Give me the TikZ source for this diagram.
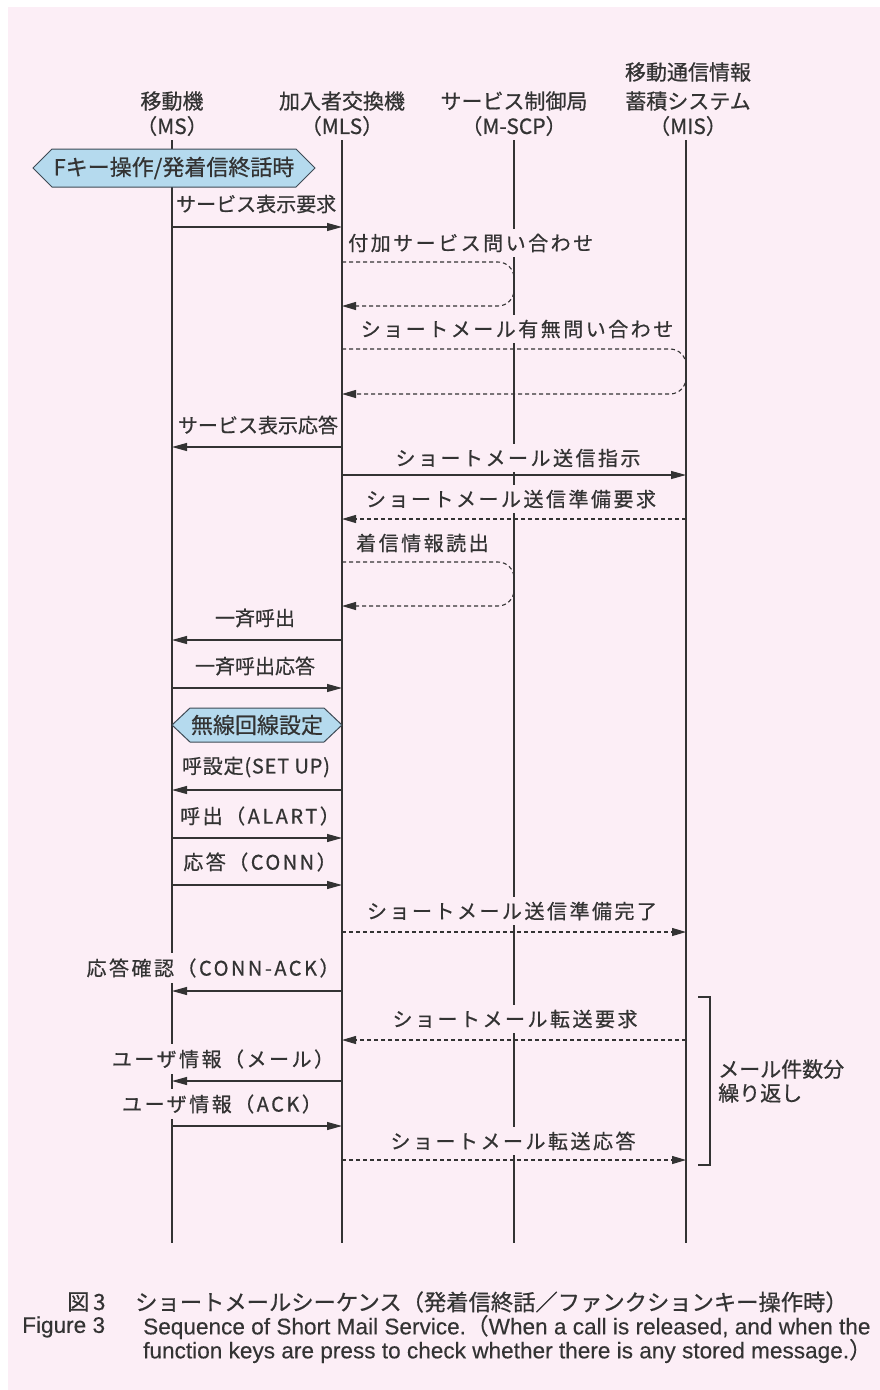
\documentclass[tikz,border=0pt]{standalone}
\usepackage{fontspec}
\setmainfont{Noto Sans CJK JP}[FakeBold=0.6]
\newfontfamily\en{Liberation Sans}[FakeBold=0.3]
\usetikzlibrary{arrows.meta}
\definecolor{bg}{HTML}{FCEEF6}
\definecolor{ln}{HTML}{333333}
\definecolor{hexfill}{HTML}{B5DAEE}
\definecolor{hexdraw}{HTML}{3E4A55}
\begin{document}
\begin{tikzpicture}[x=1pt,y=-1pt,
  life/.style={draw=ln,line width=1.1pt},
  msgsolid/.style={draw=ln,line width=1.1pt,-{Triangle[length=15pt,width=8pt]}},
  msgdash/.style={draw=ln,line width=1.1pt,dash pattern=on 4pt off 3pt,-{Triangle[length=14pt,width=8pt]}},
  lbl/.style={fill=bg,inner xsep=1pt,inner ysep=5pt,font=\fontsize{20}{24}\selectfont,text=ln},
  wide/.style={lbl,font=\fontsize{20}{24}\selectfont\addfontfeature{LetterSpace=12.5}},
  semiwide/.style={lbl,font=\fontsize{20}{24}\selectfont\addfontfeature{LetterSpace=4}},
  hdr/.style={font=\fontsize{21}{24}\selectfont,inner sep=0pt,text=ln},
  hexbox/.style={fill=hexfill,draw=hexdraw,line width=1pt,line join=miter},
  hextext/.style={font=\fontsize{22}{26}\selectfont,inner sep=0pt,text=ln},
  jcap/.style={font=\fontsize{22.3}{26}\selectfont,inner sep=0pt,text=ln,anchor=west},
  encap/.style={font=\en\fontsize{22.6}{26}\selectfont,inner sep=0pt,text=ln,anchor=west}
]
\useasboundingbox (0,0) rectangle (880,1390);
\fill[white] (0,0) rectangle (880,1390);
\fill[bg] (8,7) rectangle (880,1390);

% headers
\node[hdr] (h1a) at (172,101) {移動機};
\node[hdr] (h1b) at (172,126) {（MS）};
\node[hdr] (h2a) at (342,101) {加入者交換機};
\node[hdr] (h2b) at (342,126) {（MLS）};
\node[hdr] (h3a) at (514,101) {サービス制御局};
\node[hdr] (h3b) at (514,126) {（M-SCP）};
\node[hdr] (h4a) at (688,72) {移動通信情報};
\node[hdr] (h4b) at (688,101) {蓄積システム};
\node[hdr] (h4c) at (688,126) {（MIS）};

% lifelines
\coordinate (MS) at (172,140);   \coordinate (MSe) at (172,1243);
\coordinate (MLS) at (342,140);  \coordinate (MLSe) at (342,1243);
\coordinate (SCP) at (514,140);  \coordinate (SCPe) at (514,1243);
\coordinate (MIS) at (686,140);  \coordinate (MISe) at (686,1243);
\draw[life] (MS) -- (MSe);
\draw[life] (MLS) -- (MLSe);
\draw[life] (SCP) -- (SCPe);
\draw[life] (MIS) -- (MISe);

% hexagon 1
\draw[hexbox] (33,168) -- (52,149) -- (296,149) -- (315,168) -- (296,187) -- (52,187) -- cycle;
\node[hextext] (hx1) at (174,168) {Fキー操作/発着信終話時};

% messages
\draw[msgsolid] (MS|-0,227) -- (MLS|-0,227);
\node[lbl,anchor=west] (l1) at (175,204) {サービス表示要求};

\node[wide,anchor=west] (l2) at (347,243) {付加サービス問い合わせ};
\draw[msgdash,rounded corners=16pt] (MLS|-0,262) -- (SCP|-0,262) -- (SCP|-0,306) -- (MLS|-0,306);

\node[wide] (l3) at (517,329) {ショートメール有無問い合わせ};
\draw[msgdash,rounded corners=16pt] (MLS|-0,349) -- (MIS|-0,349) -- (MIS|-0,394) -- (MLS|-0,394);

\node[lbl] (l4) at (258,425) {サービス表示応答};
\draw[msgsolid] (MLS|-0,447) -- (MS|-0,447);

\node[wide] (l5) at (518,458) {ショートメール送信指示};
\draw[msgsolid] (MLS|-0,475) -- (MIS|-0,475);

\node[wide] (l6) at (511,499) {ショートメール送信準備要求};
\draw[msgdash] (MIS|-0,519) -- (MLS|-0,519);

\node[wide,anchor=west] (l7) at (355,543) {着信情報読出};
\draw[msgdash,rounded corners=16pt] (MLS|-0,562) -- (SCP|-0,562) -- (SCP|-0,606) -- (MLS|-0,606);

\node[lbl] (l8) at (255,618) {一斉呼出};
\draw[msgsolid] (MLS|-0,640) -- (MS|-0,640);

\node[lbl] (l9) at (255,666) {一斉呼出応答};
\draw[msgsolid] (MS|-0,688) -- (MLS|-0,688);

% hexagon 2
\draw[hexbox] (MS|-0,725) -- (190,708) -- (324,708) -- (MLS|-0,725) -- (324,742) -- (190,742) -- cycle;
\node[hextext] (hx2) at (257,725) {無線回線設定};

\node[semiwide] (l10) at (256,767) {呼設定(SET UP)};
\draw[msgsolid] (MLS|-0,790) -- (MS|-0,790);

\node[wide] (l11) at (260,816) {呼出（ALART）};
\draw[msgsolid] (MS|-0,838) -- (MLS|-0,838);

\node[wide] (l12) at (260,862) {応答（CONN）};
\draw[msgsolid] (MS|-0,885) -- (MLS|-0,885);

\node[wide] (l13) at (512,911) {ショートメール送信準備完了};
\draw[msgdash] (MLS|-0,932) -- (MIS|-0,932);

\node[wide] (l14) at (213,968) {応答確認（CONN-ACK）};
\draw[msgsolid] (MLS|-0,991) -- (MS|-0,991);

\node[wide] (l15) at (515,1019) {ショートメール転送要求};
\draw[msgdash] (MIS|-0,1040) -- (MLS|-0,1040);

\node[wide] (l16) at (223,1059) {ユーザ情報（メール）};
\draw[msgsolid] (MLS|-0,1081) -- (MS|-0,1081);

\node[wide] (l17) at (222,1104) {ユーザ情報（ACK）};
\draw[msgsolid] (MS|-0,1126) -- (MLS|-0,1126);

\node[wide] (l18) at (513,1141) {ショートメール転送応答};
\draw[msgdash] (MLS|-0,1160) -- (MIS|-0,1160);

% bracket
\coordinate (bt) at (698,997);
\coordinate (bb) at (698,1165);
\draw[ln,line width=1.1pt] (bt) -- (710,997) -- (710,1165) -- (bb);
\node[hdr,anchor=west,align=left] (rep) at (718,1081) {メール件数分\\繰り返し};

% caption
\node[jcap] (c1a) at (67,1302) {図\,3};
\node[jcap] (c1b) at (135,1302) {ショートメールシーケンス（発着信終話／ファンクションキー操作時）};
\node[encap] (c2a) at (22,1327) {Figure 3};
\node[encap] (c2b) at (143,1327) {Sequence of Short Mail Service.{\rmfamily （}When a call is released, and when the};
\node[encap] (c3) at (143,1351) {function keys are press to check whether there is any stored message.{\rmfamily ）}};
\end{tikzpicture}
\end{document}
